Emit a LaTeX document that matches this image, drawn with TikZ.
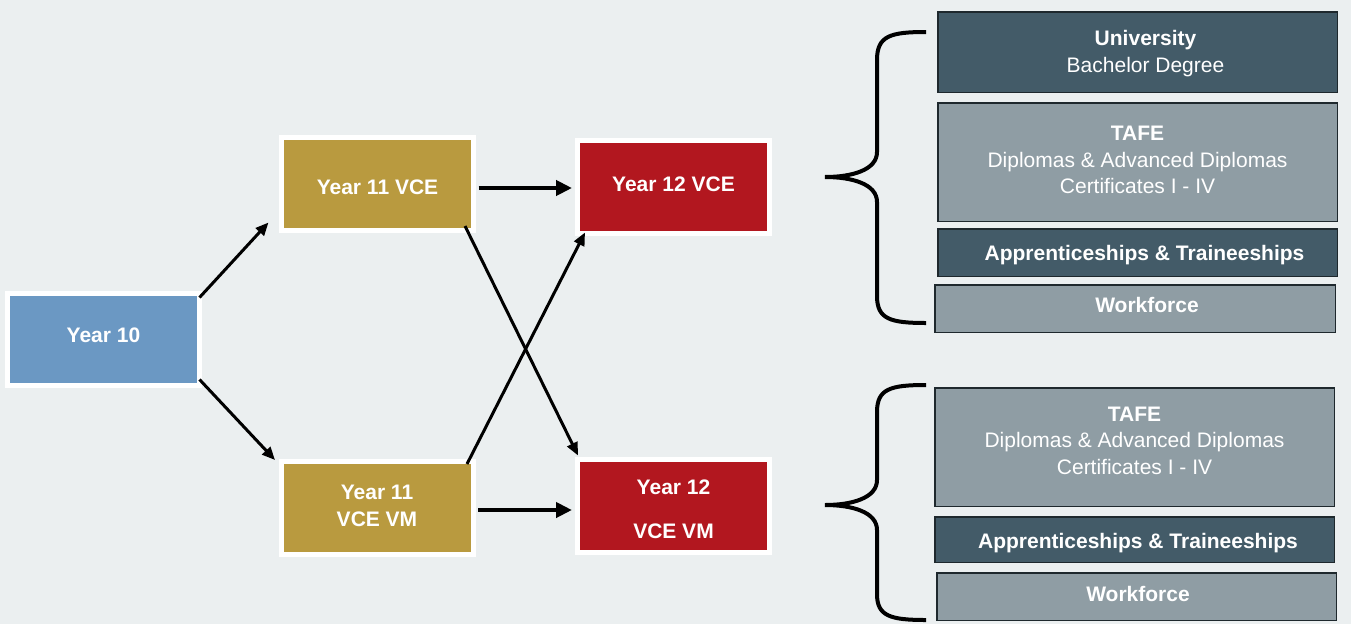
\documentclass[tikz,border=0pt]{standalone}
\usepackage{fontspec}
\setmainfont{Liberation Sans}
\usepackage{tikz}
\usetikzlibrary{arrows.meta}
\definecolor{bgGrey}{HTML}{EBEFF0}
\definecolor{yrBlue}{HTML}{6B98C3}
\definecolor{yrGold}{HTML}{B99A3F}
\definecolor{yrRed}{HTML}{B2171F}
\definecolor{outDark}{HTML}{435B68}
\definecolor{outGrey}{HTML}{8F9DA4}
\definecolor{outLine}{HTML}{1E282D}
% text set off the box centre: #1 right, #2 up
\newcommand{\nudge}[3]{\hspace*{#1}\hspace*{#1}\raisebox{#2}[\height][\depth]{\begin{tabular}{@{}c@{}}#3\end{tabular}}}

\begin{document}
\begin{tikzpicture}[x=1pt,y=-1pt,
			every node/.style={inner sep=0pt,outer sep=0pt,text=white,align=center,
				font=\fontsize{21}{26.5}\selectfont},
			year/.style={draw=white,line width=5pt,minimum width=192pt,minimum height=93pt,
				font=\fontsize{21}{26.5}\selectfont\bfseries},
			option/.style={draw=outLine,line width=1.5pt,minimum width=399.5pt},
			go/.style={-{Triangle[length=13pt,width=11pt]},line width=3pt},
			gobig/.style={-{Triangle[length=16pt,width=15pt]},line width=4.5pt},
			brace/.style={line width=4pt}]
			
			\fill[bgGrey] (0,0) rectangle (1351,624);
			\useasboundingbox (0,0) rectangle (1351,624);
			
			% school years
			\node[year,fill=yrBlue,minimum height=92pt] (y10) at (103.5,339.5) {\nudge{0pt}{2pt}{Year 10}};
			\node[year,fill=yrGold] (y11a) at (377.5,184) {\nudge{0pt}{-5pt}{Year 11 VCE}};
			\node[year,fill=yrGold] (y11b) at (377,507.5) {\nudge{0pt}{0pt}{Year 11\\VCE VM}};
			\node[year,fill=yrRed] (y12a) at (673.5,186.5) {\nudge{0pt}{0pt}{Year 12 VCE}};
			\node[year,fill=yrRed] (y12b) at (673.5,506) {\nudge{0pt}{-5.5pt}{Year 12\\[17.5pt]VCE VM}};
			
			% pathways after VCE
			\node[option,fill=outDark,minimum height=80.5pt] (uni) at (1137.5,52) {\nudge{8pt}{-1.5pt}{\textbf{University}\\Bachelor Degree}};
			\node[option,fill=outGrey,minimum height=118.5pt] (tafea) at (1137.5,162) {\nudge{0pt}{0pt}{\textbf{TAFE}\\Diplomas \& Advanced Diplomas\\Certificates I - IV}};
			\node[option,fill=outDark,minimum height=47.5pt] (appa) at (1137.5,252.5) {\nudge{7pt}{-3pt}{\textbf{Apprenticeships \& Traineeships}}};
			\node[option,fill=outGrey,minimum height=47.5pt,minimum width=400.5pt] (worka) at (1135,308.5) {\nudge{12pt}{1pt}{\textbf{Workforce}}};
			
			% pathways after VCE VM
			\node[option,fill=outGrey,minimum height=118.5pt] (tafeb) at (1134.5,447) {\nudge{0pt}{4.5pt}{\textbf{TAFE}\\Diplomas \& Advanced Diplomas\\Certificates I - IV}};
			\node[option,fill=outDark,minimum height=45.5pt] (appb) at (1134.5,539.5) {\nudge{3.5pt}{-4pt}{\textbf{Apprenticeships \& Traineeships}}};
			\node[option,fill=outGrey,minimum height=47.5pt] (workb) at (1136.5,596.5) {\nudge{1.5pt}{0pt}{\textbf{Workforce}}};
			
			% arrows
			\draw[go] ([yshift=-4pt]y10.north east) -- ([xshift=-13pt,yshift=8pt]y11a.south west);
			\draw[go] ([yshift=6pt]y10.south east) -- ([xshift=-6pt,yshift=1pt]y11b.north west);
			\draw[gobig] ([xshift=5pt,yshift=-4pt]y11a.east) -- ([xshift=-5.5pt,yshift=-1.5pt]y12a.west);
			\draw[gobig] ([xshift=5pt,yshift=-2.5pt]y11b.east) -- ([xshift=-5.5pt,yshift=-4pt]y12b.west);
			\draw[go] ([xshift=-8.5pt,yshift=4.5pt]y11a.south east) -- ([xshift=0.5pt,yshift=4pt]y12b.north west);
			\draw[go] ([xshift=-6pt,yshift=-3pt]y11b.north east) -- ([xshift=7.5pt,yshift=0.5pt]y12a.south west);
			
			% braces
			\draw[brace] (926,32) .. controls (890,32) and (877,36) .. (877,60) -- (877,152)
				.. controls (877,170) and (852,177) .. (825,177)
				.. controls (852,177) and (877,184) .. (877,202) -- (877,296)
				.. controls (877,319) and (890,323) .. (926,323);
			\draw[brace] (926,385) .. controls (890,385) and (877,389) .. (877,412) -- (877,480)
				.. controls (877,498) and (852,505) .. (825,505)
				.. controls (852,505) and (877,512) .. (877,530) -- (877,594)
				.. controls (877,616) and (890,620) .. (926,620);
		\end{tikzpicture}
\end{document}
